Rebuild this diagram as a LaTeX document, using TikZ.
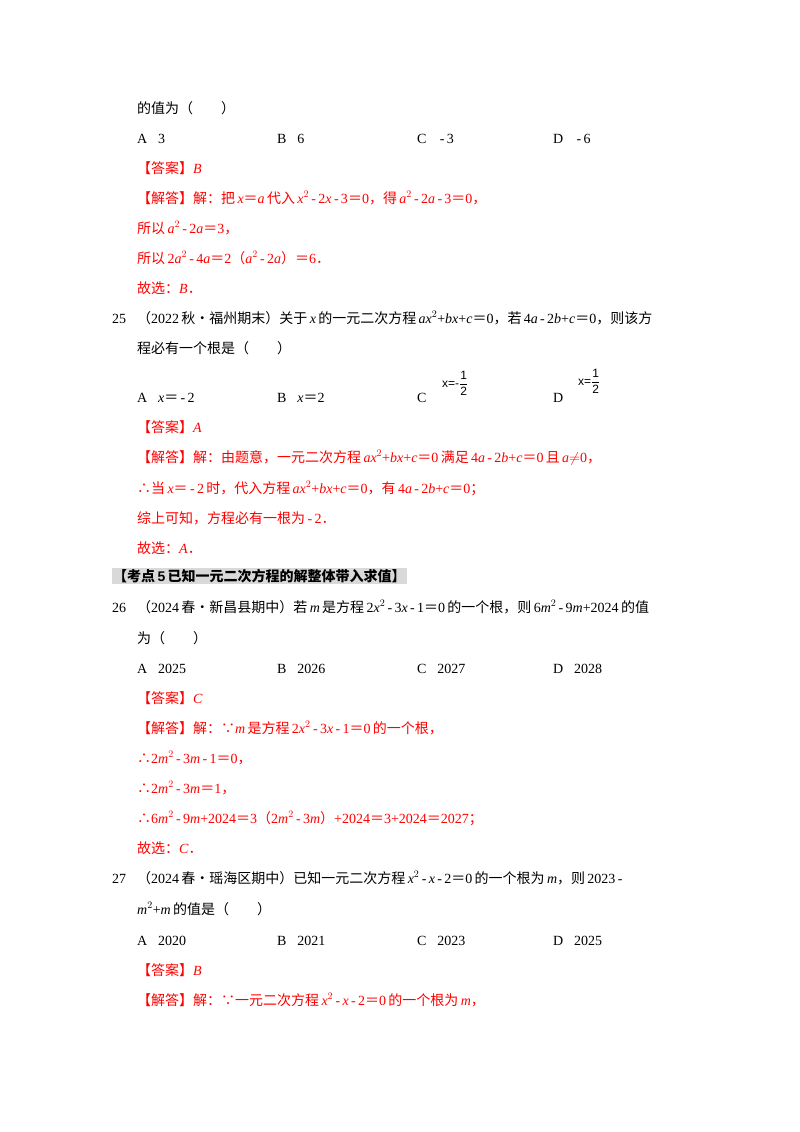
\documentclass[tikz,border=0pt]{standalone}
\usepackage{amsmath}
\usepackage{fontspec}
\setmainfont{Liberation Serif}
\newfontfamily\cjk{Noto Sans CJK SC}
\newfontfamily\pic{Liberation Sans}
\newcommand{\z}[1]{{\cjk #1}}
\newcommand{\mi}[1]{\textit{#1}}
\newcommand{\eq}{\z{＝}}
\newcommand{\mn}{\,-\,}
\newcommand{\fr}[1]{{\pic\fontsize{12}{12}\selectfont x=#1$\genfrac{}{}{0.6pt}{0}{\text{\pic 1}}{\text{\pic 2}}$}}
\tikzset{
  txt/.style={anchor=base west, inner sep=0pt, font=\fontsize{14}{17}\selectfont},
  ans/.style={txt, text=red},
  head/.style={anchor=west, inner sep=1pt, fill=black!15, font=\fontsize{14}{17}\selectfont\bfseries}
}
\begin{document}
\begin{tikzpicture}[x=1pt,y=-1pt]
  \useasboundingbox (0,0) rectangle (800,1132);
  % question 24 end
  \node[txt] (l1) at (137,113) {\z{的值为（　　）}};
  \node[txt] (a24) at (137,143) {A．3};
  \node[txt] (b24) at (277,143) {B．6};
  \node[txt] (c24) at (417,143) {C．\mn 3};
  \node[txt] (d24) at (553,143) {D．\mn 6};
  \node[ans] (k24) at (137,173) {\z{【答案】}\mi{B}};
  \node[ans] (s24a) at (137,203) {\z{【解答】解：把}\,\mi{x}\eq\mi{a}\,\z{代入}\,\mi{x}$^2$\mn 2\mi{x}\mn 3\eq 0\z{，得}\,\mi{a}$^2$\mn 2\mi{a}\mn 3\eq 0\z{，}};
  \node[ans] (s24b) at (137,233) {\z{所以}\,\mi{a}$^2$\mn 2\mi{a}\eq 3\z{，}};
  \node[ans] (s24c) at (137,263) {\z{所以}\,2\mi{a}$^2$\mn 4\mi{a}\eq 2\z{（}\mi{a}$^2$\mn 2\mi{a}\z{）}\eq 6\z{．}};
  \node[ans] (s24d) at (137,293) {\z{故选：}\mi{B}\z{．}};
  % question 25
  \node[txt] (q25a) at (112,323) {25．\z{（}2022\,\z{秋•福州期末）关于}\,\mi{x}\,\z{的一元二次方程}\,\mi{ax}$^2$+\mi{bx}+\mi{c}\eq 0\z{，若}\,4\mi{a}\mn 2\mi{b}+\mi{c}\eq 0\z{，则该方}};
  \node[txt] (q25b) at (137,353) {\z{程必有一个根是（　　）}};
  \node[txt] (a25) at (137,402) {A．\mi{x}\eq\mn 2};
  \node[txt] (b25) at (277,402) {B．\mi{x}\eq 2};
  \node[txt] (c25) at (417,402) {C．};
  \node[anchor=south west, inner sep=0pt] (c25f) at (442,396) {\fr{-}};
  \node[txt] (d25) at (553,402) {D．};
  \node[anchor=south west, inner sep=0pt] (d25f) at (578,394) {\fr{}};
  \node[ans] (k25) at (137,432) {\z{【答案】}\mi{A}};
  \node[ans] (s25a) at (137,462) {\z{【解答】解：由题意，一元二次方程}\,\mi{ax}$^2$+\mi{bx}+\mi{c}\eq 0\,\z{满足}\,4\mi{a}\mn 2\mi{b}+\mi{c}\eq 0\,\z{且}\,\mi{a}$\neq$0\z{，}};
  \node[ans] (s25b) at (137,493) {\z{∴当}\,\mi{x}\eq\mn 2\,\z{时，代入方程}\,\mi{ax}$^2$+\mi{bx}+\mi{c}\eq 0\z{，有}\,4\mi{a}\mn 2\mi{b}+\mi{c}\eq 0\z{；}};
  \node[ans] (s25c) at (137,523) {\z{综上可知，方程必有一根为}\mn 2\z{．}};
  \node[ans] (s25d) at (137,553) {\z{故选：}\mi{A}\z{．}};
  % heading
  \node[head] (h5) at (112,576) {\z{【考点}\,{\pic 5}\,\z{已知一元二次方程的解整体带入求值】}};
  % question 26
  \node[txt] (q26a) at (112,612) {26．\z{（}2024\,\z{春•新昌县期中）若}\,\mi{m}\,\z{是方程}\,2\mi{x}$^2$\mn 3\mi{x}\mn 1\eq 0\,\z{的一个根，则}\,6\mi{m}$^2$\mn 9\mi{m}+2024\,\z{的值}};
  \node[txt] (q26b) at (137,643) {\z{为（　　）}};
  \node[txt] (a26) at (137,673) {A．2025};
  \node[txt] (b26) at (277,673) {B．2026};
  \node[txt] (c26) at (417,673) {C．2027};
  \node[txt] (d26) at (553,673) {D．2028};
  \node[ans] (k26) at (137,703) {\z{【答案】}\mi{C}};
  \node[ans] (s26a) at (137,733) {\z{【解答】解：∵}\mi{m}\,\z{是方程}\,2\mi{x}$^2$\mn 3\mi{x}\mn 1\eq 0\,\z{的一个根，}};
  \node[ans] (s26b) at (137,763) {\z{∴}2\mi{m}$^2$\mn 3\mi{m}\mn 1\eq 0\z{，}};
  \node[ans] (s26c) at (137,793) {\z{∴}2\mi{m}$^2$\mn 3\mi{m}\eq 1\z{，}};
  \node[ans] (s26d) at (137,823) {\z{∴}6\mi{m}$^2$\mn 9\mi{m}+2024\eq 3\z{（}2\mi{m}$^2$\mn 3\mi{m}\z{）}+2024\eq 3+2024\eq 2027\z{；}};
  \node[ans] (s26e) at (137,853) {\z{故选：}\mi{C}\z{．}};
  % question 27
  \node[txt] (q27a) at (112,883) {27．\z{（}2024\,\z{春•瑶海区期中）已知一元二次方程}\,\mi{x}$^2$\mn\mi{x}\mn 2\eq 0\,\z{的一个根为}\,\mi{m}\z{，则}\,2023\mn};
  \node[txt] (q27b) at (137,914) {\mi{m}$^2$+\mi{m}\,\z{的值是（　　）}};
  \node[txt] (a27) at (137,945) {A．2020};
  \node[txt] (b27) at (277,945) {B．2021};
  \node[txt] (c27) at (417,945) {C．2023};
  \node[txt] (d27) at (553,945) {D．2025};
  \node[ans] (k27) at (137,975) {\z{【答案】}\mi{B}};
  \node[ans] (s27a) at (137,1005) {\z{【解答】解：∵一元二次方程}\,\mi{x}$^2$\mn\mi{x}\mn 2\eq 0\,\z{的一个根为}\,\mi{m}\z{，}};
\end{tikzpicture}
\end{document}
